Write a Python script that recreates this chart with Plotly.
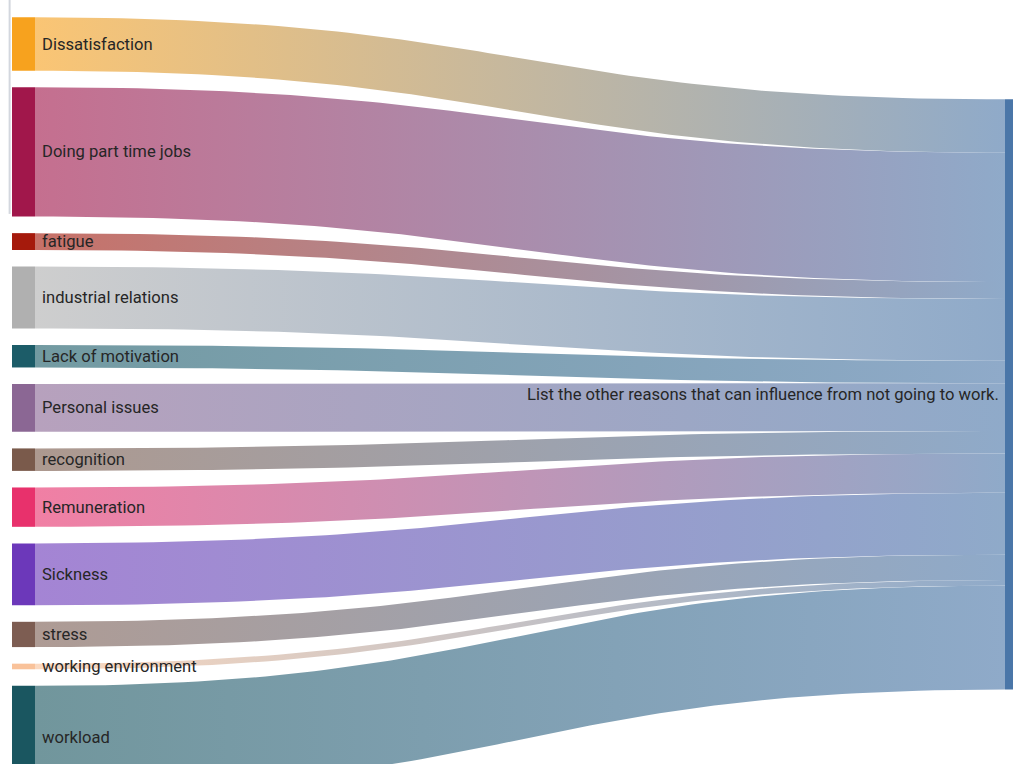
import numpy as np
import plotly.graph_objects as go

# ---- data -------------------------------------------------------------
reasons = [
    "Dissatisfaction", "Doing part time jobs", "fatigue", "industrial relations",
    "Lack of motivation", "Personal issues", "recognition", "Remuneration",
    "Sickness", "stress", "working environment", "workload",
]
counts = [19, 46, 6, 22, 8, 17, 8, 14, 22, 9, 2, 37]
target = "List the other reasons that can influence from not going to work."

reason_colors = [
    "#f7a21e", "#a1174b", "#a51a0c", "#b0b0b0",
    "#1c5c68", "#8b6794", "#7a5a4b", "#e8316c",
    "#6c38ba", "#7d5d52", "#f9c29a", "#1a5660",
]
target_color = "#4a76a8"

# ---- layout settings (x in pixels, y in count units) -------------------
NODE_PAD = 5.9          # gap between stacked source nodes
TARGET_TOP = 29.2       # top of the target node, measured from the first source node
X_SRC = 12              # left edge of source nodes
X_TGT = 1005            # left edge of target node
NODE_W = 23
LINK_ALPHA = 0.62
Y_RANGE = [265.7, -6.16]
FONT = "Roboto, Liberation Sans, Arial, sans-serif"
FONT_SIZE = 16.6
TEXT_COLOR = "#262626"


def hex_rgb(h):
    h = h.lstrip("#")
    return tuple(int(h[i:i + 2], 16) for i in (0, 2, 4))


def tint(h, a):
    """Colour h seen at opacity a over white."""
    r, g, b = hex_rgb(h)
    return "rgb({},{},{})".format(*(round(a * c + (1 - a) * 255) for c in (r, g, b)))


def curve(x0, y0, x1, y1, n=80):
    """Horizontal cubic Bezier with control points at the midpoint."""
    t = np.linspace(0, 1, n)
    xm = (x0 + x1) / 2
    x = (1 - t) ** 3 * x0 + 3 * (1 - t) ** 2 * t * xm + 3 * (1 - t) * t ** 2 * xm + t ** 3 * x1
    y = ((1 - t) ** 3 + 3 * (1 - t) ** 2 * t) * y0 + (3 * (1 - t) * t ** 2 + t ** 3) * y1
    return x, y


# stacked positions of the source nodes and their link ends on the target
src_spans = []
y = 0.0
for v in counts:
    src_spans.append((y, y + v))
    y += v + NODE_PAD

tgt_spans = []
y = TARGET_TOP
for v in counts:
    tgt_spans.append((y, y + v))
    y += v
tgt_span = (TARGET_TOP, TARGET_TOP + sum(counts))

fig = go.Figure()

# links: gradient from source colour to target colour
x_a = X_SRC + NODE_W
x_b = X_TGT
for (s0, s1), (t0, t1), col in zip(src_spans, tgt_spans, reason_colors):
    xt, yt = curve(x_a, s0, x_b, t0)
    xb, yb = curve(x_a, s1, x_b, t1)
    xs = np.concatenate([xt, xb[::-1], xt[:1]])
    ys = np.concatenate([yt, yb[::-1], yt[:1]])
    fig.add_trace(go.Scatter(
        x=xs, y=ys, mode="lines", fill="toself",
        line=dict(width=0),
        fillgradient=dict(
            type="horizontal",
            colorscale=[[0, tint(col, LINK_ALPHA)], [1, tint(target_color, LINK_ALPHA)]],
        ),
        hoverinfo="skip", showlegend=False,
    ))

# nodes
shapes = []
for (s0, s1), col in zip(src_spans, reason_colors):
    shapes.append(dict(type="rect", xref="x", yref="y", x0=X_SRC, x1=X_SRC + NODE_W,
                       y0=s0, y1=s1, fillcolor=col, line=dict(width=0), layer="above"))
shapes.append(dict(type="rect", xref="x", yref="y", x0=X_TGT, x1=X_TGT + NODE_W,
                   y0=tgt_span[0], y1=tgt_span[1], fillcolor=target_color,
                   line=dict(width=0), layer="above"))
# thin frame line at the left edge of the page
shapes.append(dict(type="line", xref="paper", yref="paper", x0=0.0095, x1=0.0095,
                   y0=1, y1=0.72, line=dict(color="#d3d7de", width=2)))

# labels
annotations = []
for (s0, s1), name in zip(src_spans, reasons):
    annotations.append(dict(
        x=X_SRC + NODE_W + 5, y=(s0 + s1) / 2, xref="x", yref="y",
        text=name, showarrow=False, xanchor="left", yanchor="middle",
        font=dict(family=FONT, size=FONT_SIZE, color=TEXT_COLOR),
    ))
annotations.append(dict(
    x=X_TGT - 4, y=(tgt_span[0] + tgt_span[1]) / 2, xref="x", yref="y",
    text=target, showarrow=False, xanchor="right", yanchor="middle",
    font=dict(family=FONT, size=FONT_SIZE, color=TEXT_COLOR),
))

fig.update_layout(
    width=1013, height=764,
    margin=dict(l=0, r=0, t=0, b=0),
    paper_bgcolor="white", plot_bgcolor="white",
    xaxis=dict(range=[0, 1013], visible=False, fixedrange=True),
    yaxis=dict(range=Y_RANGE, visible=False, fixedrange=True),
    shapes=shapes, annotations=annotations,
    showlegend=False,
)

fig.write_html("out.html")
